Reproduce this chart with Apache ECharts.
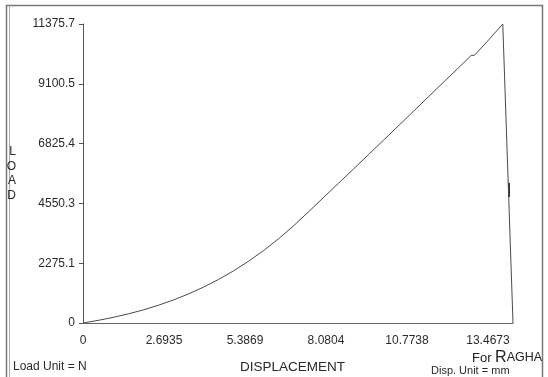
<!DOCTYPE html>
<html>
<head>
<meta charset="utf-8">
<script src="https://cdn.jsdelivr.net/npm/echarts@6/dist/echarts.min.js"></script>
<style>
html,body{margin:0;padding:0;background:#fff;}
#chart{width:548px;height:377px;}
</style>
</head>
<body>
<div id="chart"></div>
<script>
// Data
const displacement = [0, 0.5, 1.0, 1.5, 2.0, 2.5, 3.0, 3.5, 4.0, 4.5, 5.0, 5.5, 6.0, 6.5, 7.0, 7.5, 8.0, 8.5, 9.0, 9.5, 10.0, 10.5, 11.0, 11.5, 12.0, 12.5, 12.91, 13.02, 13.49, 13.96, 14.30];
const load = [0, 99, 213, 345, 497, 672, 873, 1101, 1360, 1652, 1980, 2345, 2752, 3201, 3694, 4229, 4775, 5321, 5863, 6412, 6962, 7512, 8065, 8622, 9174, 9723, 10180, 10185, 10770, 11375.7, 0];
const xTickLabels = ['0', '2.6935', '5.3869', '8.0804', '10.7738', '13.4673'];
const yTickLabels = ['0', '2275.1', '4550.3', '6825.4', '9100.5', '11375.7'];
const xStep = 2.69346;
const yStep = 2275.14;
const xMax = 14.30;
const yMax = 11375.7;

const seriesData = displacement.map((d, i) => [d, load[i]]);

const chart = echarts.init(document.getElementById('chart'));
const txt = '#2a2a2a';
const font = 'Liberation Sans, Arial, sans-serif';
chart.setOption({
  animation: false,
  backgroundColor: '#fff',
  grid: {left: 83, right: 35, top: 24, bottom: 54},
  xAxis: {
    type: 'value', min: 0, max: xMax, interval: xStep,
    axisLine: {show: true, lineStyle: {color: '#666', width: 1}},
    axisTick: {show: false},
    splitLine: {show: false},
    axisLabel: {
      color: txt, fontFamily: font, fontSize: 12, margin: 12,
      showMaxLabel: false,
      formatter: function (v) {
        const i = Math.round(v / xStep);
        if (Math.abs(v - i * xStep) > 0.01 || i >= xTickLabels.length) return '';
        return xTickLabels[i];
      }
    }
  },
  yAxis: {
    type: 'value', min: 0, max: yMax, interval: yStep,
    name: 'L\nO\nA\nD', nameLocation: 'middle', nameRotate: 0, nameGap: 67,
    nameTextStyle: {color: txt, fontFamily: font, fontSize: 12, lineHeight: 14.5},
    axisLine: {show: true, lineStyle: {color: '#555', width: 1}},
    axisTick: {show: true, length: 4, lineStyle: {color: '#555'}},
    splitLine: {show: false},
    axisLabel: {
      color: txt, fontFamily: font, fontSize: 12, margin: 8,
      formatter: function (v) {
        const i = Math.round(v / yStep);
        return yTickLabels[i] !== undefined ? yTickLabels[i] : '';
      }
    }
  },
  series: [{
    type: 'line',
    data: seriesData,
    showSymbol: false,
    lineStyle: {color: '#4a4a4a', width: 1},
    smooth: false
  }],
  graphic: [
    {type: 'rect', shape: {x: 6.5, y: 5.5, width: 536, height: 420}, style: {fill: 'none', stroke: '#777', lineWidth: 1.5}},
    {type: 'line', shape: {x1: 9.5, y1: 5.5, x2: 9.5, y2: 377}, style: {stroke: '#aaa', lineWidth: 1}},
    {type: 'line', shape: {x1: 509, y1: 183, x2: 509, y2: 197}, style: {stroke: '#333', lineWidth: 2}},
    {type: 'text', left: 13, top: 361, style: {text: 'Load Unit = N', fill: txt, font: '12px ' + font}},
    {type: 'text', left: 240, top: 360, style: {text: 'DISPLACEMENT', fill: txt, font: '13.5px ' + font}},
    {type: 'text', left: 431, top: 365, style: {text: 'Disp. Unit = mm', fill: txt, font: '11px ' + font}},
    {type: 'text', left: 472, top: 350, style: {
      text: '{a|For }{b|R}{c|AGHA}',
      rich: {
        a: {fontSize: 13, fill: '#222', fontFamily: font},
        b: {fontSize: 16, fill: '#222', fontFamily: font},
        c: {fontSize: 12.5, fill: '#222', fontFamily: font}
      }
    }}
  ]
});
</script>
</body>
</html>
